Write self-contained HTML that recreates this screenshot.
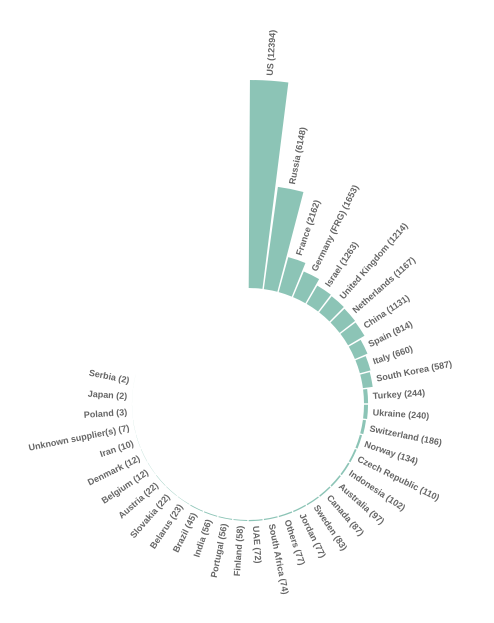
<!DOCTYPE html>
<html><head><meta charset="utf-8"><style>
html,body{margin:0;padding:0;background:#fff;}
svg{display:block;}
text{font-family:"Liberation Sans",sans-serif;font-size:9px;font-weight:bold;fill:#666;}
</style></head><body>
<svg id="chart" width="494" height="623" viewBox="0 0 494 623"></svg>
<script>
const categories = ["US","Russia","France","Germany (FRG)","Israel","United Kingdom","Netherlands","China","Spain","Italy","South Korea","Turkey","Ukraine","Switzerland","Norway","Czech Republic","Indonesia","Australia","Canada","Sweden","Jordan","Others","South Africa","UAE","Finland","Portugal","India","Brazil","Belarus","Slovakia","Austria","Belgium","Denmark","Iran","Unknown supplier(s)","Poland","Japan","Serbia"];
const values = [12394,6148,2162,1653,1263,1214,1167,1131,814,660,587,244,240,186,134,110,102,97,87,83,77,77,74,72,58,56,56,45,23,22,22,12,12,10,7,3,2,2];

const cx = 248, cy = 404, inner = 116, outer = 324;
const step = 7.5 * Math.PI / 180;
const maxV = 12394;
const rScale = v => inner + (v / maxV) * (outer - inner);
const aScale = i => i * step;
const NS = "http://www.w3.org/2000/svg";
const svg = document.getElementById("chart");
const pad = 0.006;

function pt(r, a){ return [cx + r*Math.sin(a), cy - r*Math.cos(a)]; }

categories.forEach((c, i) => {
  const a0 = aScale(i) + pad, a1 = aScale(i+1) - pad;
  const r1 = rScale(values[i]);
  const p1 = pt(inner, a0), p2 = pt(r1, a0), p3 = pt(r1, a1), p4 = pt(inner, a1);
  const path = document.createElementNS(NS, "path");
  path.setAttribute("d", `M${p1[0]},${p1[1]} L${p2[0]},${p2[1]} A${r1},${r1} 0 0 1 ${p3[0]},${p3[1]} L${p4[0]},${p4[1]} A${inner},${inner} 0 0 0 ${p1[0]},${p1[1]} Z`);
  path.setAttribute("fill", "#8cc4b6");
  
  
  svg.appendChild(path);

  const mid = (aScale(i) + aScale(i+1)) / 2;
  const deg = mid * 180 / Math.PI;
  const lr = r1 + 5;
  const [tx, ty] = pt(lr, mid);
  const t = document.createElementNS(NS, "text");
  t.textContent = c + " (" + values[i] + ")";
  if (deg < 180) {
    t.setAttribute("transform", `translate(${tx},${ty}) rotate(${deg - 90})`);
    t.setAttribute("text-anchor", "start");
  } else {
    t.setAttribute("transform", `translate(${tx},${ty}) rotate(${deg + 90})`);
    t.setAttribute("text-anchor", "end");
  }
  t.setAttribute("dy", "0.35em");
  
  
  svg.appendChild(t);
});
</script>
</body></html>
